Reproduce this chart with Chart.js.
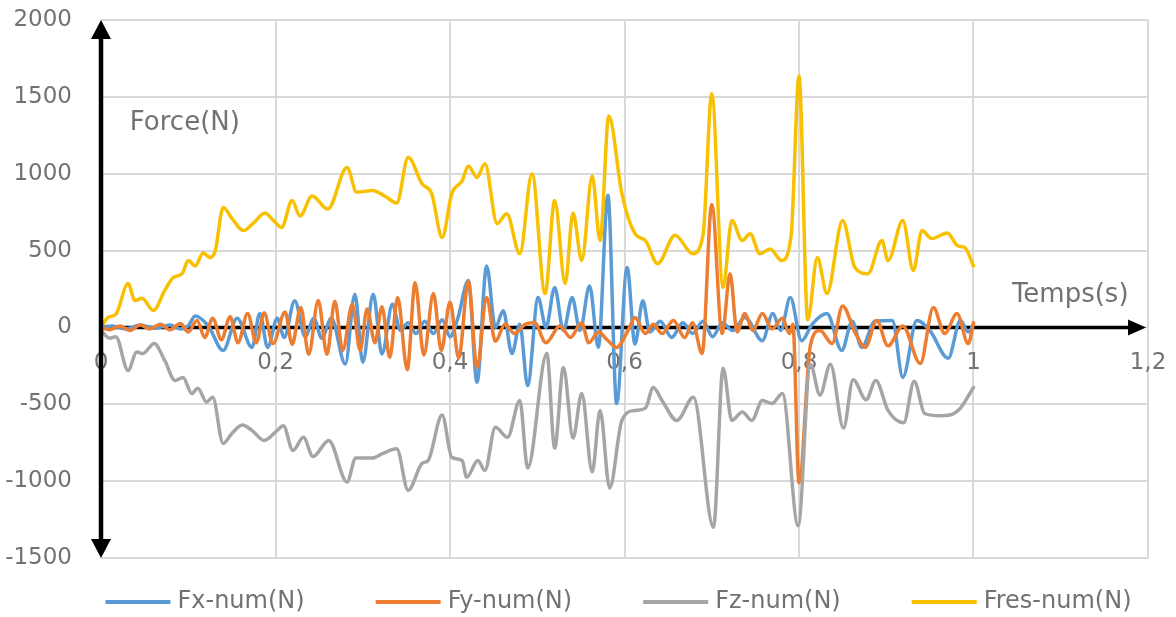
<!DOCTYPE html>
<html>
<head>
<meta charset="utf-8">
<script src="https://cdn.jsdelivr.net/npm/chart.js@4.4.1/dist/chart.umd.min.js"></script>
<style>
  html, body { margin: 0; padding: 0; background: #ffffff; }
  canvas { display: block; }
</style>
</head>
<body>
<canvas id="chart" width="1176" height="617"></canvas>
<script>
// Force components over one second of motion: [time (s), force (N)]
const seriesNames  = ['Fx-num(N)', 'Fy-num(N)', 'Fz-num(N)', 'Fres-num(N)'];
const seriesColors = ['#5b9bd5', '#ed7d31', '#a5a5a5', '#f8c000'];

const fx = [
  [0,0],[0.013,10],[0.028,-10],[0.045,15],[0.062,-5],[0.079,15],[0.091,-10],[0.100,10],
  [0.108,75],[0.123,10],[0.140,-150],[0.156,60],[0.173,-130],[0.182,90],[0.191,-130],
  [0.202,60],[0.210,-65],[0.222,173],[0.234,-60],[0.244,60],[0.253,-70],[0.264,60],
  [0.280,-238],[0.291,216],[0.300,-227],[0.312,216],[0.322,-173],[0.334,150],[0.343,-20],
  [0.352,30],[0.361,-40],[0.371,40],[0.381,-40],[0.391,50],[0.400,-60],[0.409,60],
  [0.421,305],[0.431,-357],[0.442,400],[0.452,0],[0.461,108],[0.471,-170],[0.480,20],
  [0.489,-378],[0.501,195],[0.510,0],[0.520,260],[0.530,-20],[0.540,195],[0.549,-20],
  [0.560,270],[0.570,-130],[0.581,860],[0.591,-495],[0.603,390],[0.612,-108],[0.621,173],
  [0.629,-30],[0.641,40],[0.654,-65],[0.667,30],[0.678,-40],[0.690,40],[0.701,-60],
  [0.712,30],[0.724,-20],[0.738,65],[0.758,-86],[0.770,90],[0.779,-20],[0.790,195],
  [0.803,-86],[0.815,20],[0.832,90],[0.849,-150],[0.861,40],[0.872,-130],[0.887,40],
  [0.907,45],[0.919,-325],[0.935,45],[0.950,-20],[0.971,-200],[0.985,45],[0.994,-30],[1.000,20]
];

const fy = [
  [0,0],[0.010,-15],[0.022,10],[0.033,-20],[0.045,15],[0.056,-10],[0.068,20],[0.079,-15],
  [0.091,25],[0.100,-30],[0.110,45],[0.119,-65],[0.128,60],[0.138,-80],[0.148,70],
  [0.157,-100],[0.168,90],[0.178,-100],[0.187,95],[0.197,-105],[0.211,100],[0.219,-110],
  [0.229,130],[0.238,-175],[0.249,175],[0.259,-175],[0.268,170],[0.277,-150],[0.288,150],
  [0.297,-150],[0.305,120],[0.314,-100],[0.322,135],[0.331,-195],[0.340,195],[0.351,-275],
  [0.360,290],[0.370,-180],[0.381,220],[0.390,-150],[0.400,165],[0.410,-200],[0.421,300],
  [0.431,-260],[0.442,195],[0.452,-90],[0.463,20],[0.474,-40],[0.486,20],[0.497,30],
  [0.510,-100],[0.526,10],[0.538,-65],[0.551,30],[0.559,-100],[0.570,-30],[0.580,-80],
  [0.591,-130],[0.604,-20],[0.612,65],[0.624,-40],[0.633,20],[0.643,-40],[0.656,45],
  [0.669,-65],[0.678,30],[0.689,-170],[0.700,800],[0.712,-40],[0.721,350],[0.729,-30],
  [0.738,90],[0.747,-20],[0.758,90],[0.769,-10],[0.781,60],[0.789,-40],[0.793,20],
  [0.800,-1010],[0.813,-120],[0.824,-20],[0.838,-105],[0.850,140],[0.864,-30],[0.876,-130],
  [0.889,45],[0.902,-120],[0.919,10],[0.939,-235],[0.954,130],[0.967,-40],[0.981,90],
  [0.994,-105],[1.000,30]
];

const fz = [
  [0,-20],[0.010,-70],[0.017,-60],[0.031,-280],[0.041,-160],[0.048,-170],[0.061,-105],
  [0.073,-215],[0.085,-345],[0.094,-325],[0.104,-430],[0.111,-395],[0.121,-485],[0.128,-455],
  [0.140,-755],[0.150,-690],[0.162,-635],[0.173,-670],[0.187,-735],[0.202,-670],[0.209,-640],
  [0.220,-800],[0.232,-715],[0.243,-840],[0.261,-735],[0.282,-1005],[0.292,-850],[0.311,-850],
  [0.323,-820],[0.339,-790],[0.352,-1060],[0.368,-885],[0.375,-865],[0.391,-570],[0.402,-845],
  [0.414,-865],[0.419,-975],[0.432,-865],[0.440,-930],[0.452,-650],[0.466,-715],[0.480,-475],
  [0.489,-915],[0.511,-170],[0.520,-785],[0.530,-260],[0.541,-720],[0.551,-430],[0.563,-940],
  [0.572,-540],[0.583,-1045],[0.597,-605],[0.612,-540],[0.624,-525],[0.633,-390],[0.643,-475],
  [0.660,-605],[0.679,-455],[0.702,-1300],[0.713,-265],[0.723,-605],[0.735,-550],[0.746,-605],
  [0.758,-475],[0.769,-495],[0.781,-430],[0.799,-1290],[0.813,-240],[0.824,-440],[0.836,-240],
  [0.851,-655],[0.862,-340],[0.877,-470],[0.888,-345],[0.902,-540],[0.920,-620],[0.932,-350],
  [0.944,-560],[0.962,-575],[0.973,-570],[0.985,-525],[1.000,-390]
];

const fres = [
  [0,0],[0.008,65],[0.017,85],[0.031,285],[0.039,175],[0.047,190],[0.060,110],[0.073,240],
  [0.083,325],[0.093,350],[0.100,435],[0.108,400],[0.117,485],[0.125,455],[0.131,500],
  [0.140,780],[0.150,710],[0.163,630],[0.174,675],[0.188,745],[0.197,700],[0.207,650],
  [0.219,825],[0.228,725],[0.242,855],[0.260,770],[0.282,1040],[0.293,880],[0.311,890],
  [0.325,855],[0.339,810],[0.352,1105],[0.368,935],[0.379,870],[0.391,585],[0.402,870],
  [0.414,955],[0.421,1050],[0.431,975],[0.440,1065],[0.454,675],[0.465,740],[0.480,480],
  [0.494,1000],[0.509,220],[0.520,825],[0.532,285],[0.541,745],[0.551,435],[0.563,985],
  [0.572,565],[0.582,1375],[0.597,870],[0.612,610],[0.624,565],[0.638,415],[0.658,600],
  [0.678,480],[0.690,600],[0.700,1520],[0.713,260],[0.723,695],[0.735,565],[0.744,610],
  [0.755,480],[0.767,510],[0.780,435],[0.791,600],[0.800,1635],[0.810,50],[0.821,455],
  [0.832,220],[0.850,695],[0.864,390],[0.879,350],[0.895,565],[0.902,435],[0.919,695],
  [0.931,370],[0.941,630],[0.952,578],[0.970,615],[0.982,530],[0.990,520],[1.000,400]
];

const seriesData = [fx, fy, fz, fres];

// Axis ranges and tick steps
const xMin = 0, xMax = 1.2, xStep = 0.2;
const yMin = -1500, yMax = 2000, yStep = 500;
const yTitle = 'Force(N)';
const xTitle = 'Temps(s)';

const FONT = '"DejaVu Sans", "Open Sans", sans-serif';
const TEXT_COLOR = '#727272';

function formatTime(v) {
  const r = Math.round(v * 10) / 10;
  return String(r).replace('.', ',');
}

function arrowHead(ctx, tipX, tipY, dirX, dirY, len, halfW) {
  const bx = tipX - dirX * len, by = tipY - dirY * len;
  const px = -dirY, py = dirX;
  ctx.beginPath();
  ctx.moveTo(tipX, tipY);
  ctx.lineTo(bx + px * halfW, by + py * halfW);
  ctx.lineTo(bx - px * halfW, by - py * halfW);
  ctx.closePath();
  ctx.fill();
}

// Keep the plot box fixed: no extra room reserved for tick label overhang
function noOverhang(scale) {
  scale.paddingTop = 0;
  scale.paddingBottom = 0;
  scale.paddingLeft = 0;
  scale.paddingRight = 0;
}

// Black arrowed axes through the origin, axis titles and a bottom legend
const axesPlugin = {
  id: 'axesArrows',
  beforeDatasetsDraw(chart) {
    const {ctx, chartArea, scales} = chart;
    const x0 = scales.x.getPixelForValue(0);
    const y0 = scales.y.getPixelForValue(0);
    ctx.save();
    ctx.strokeStyle = '#000';
    ctx.fillStyle = '#000';
    ctx.lineWidth = 3.5;
    ctx.beginPath();
    ctx.moveTo(x0, y0);
    ctx.lineTo(chartArea.right - 16, y0);
    ctx.stroke();
    arrowHead(ctx, chartArea.right - 2, y0, 1, 0, 18, 8);
    ctx.restore();
  },
  afterDatasetsDraw(chart) {
    const {ctx, chartArea, scales} = chart;
    const x0 = scales.x.getPixelForValue(0);
    ctx.save();
    ctx.strokeStyle = '#000';
    ctx.fillStyle = '#000';
    ctx.lineWidth = 4.5;
    ctx.beginPath();
    ctx.moveTo(x0, chartArea.top + 14);
    ctx.lineTo(x0, chartArea.bottom - 14);
    ctx.stroke();
    arrowHead(ctx, x0, chartArea.top, 0, -1, 19, 10);
    arrowHead(ctx, x0, chartArea.bottom, 0, 1, 19, 10);

    ctx.fillStyle = TEXT_COLOR;
    ctx.font = '26px ' + FONT;
    ctx.textAlign = 'left';
    ctx.textBaseline = 'middle';
    ctx.fillText(yTitle, scales.x.getPixelForValue(0.033), scales.y.getPixelForValue(1330));
    ctx.fillText(xTitle, scales.x.getPixelForValue(1.044), scales.y.getPixelForValue(208));
    ctx.restore();
  },
  afterDraw(chart) {
    const {ctx, chartArea} = chart;
    ctx.save();
    ctx.font = '24px ' + FONT;
    ctx.textBaseline = 'middle';
    ctx.textAlign = 'left';
    const lineLen = 65, textGap = 7, itemGap = 71;
    const items = chart.data.datasets.map(ds => ({
      text: ds.label, color: ds.borderColor, w: ctx.measureText(ds.label).width
    }));
    const total = items.reduce((s, it) => s + lineLen + textGap + it.w, 0) + itemGap * (items.length - 1);
    let x = (chartArea.left + chartArea.right) / 2 - total / 2 - 6;
    const y = chartArea.bottom + 44;
    items.forEach(it => {
      ctx.strokeStyle = it.color;
      ctx.lineWidth = 4;
      ctx.lineCap = 'butt';
      ctx.beginPath();
      ctx.moveTo(x, y);
      ctx.lineTo(x + lineLen, y);
      ctx.stroke();
      ctx.fillStyle = TEXT_COLOR;
      ctx.fillText(it.text, x + lineLen + textGap, y);
      x += lineLen + textGap + it.w + itemGap;
    });
    ctx.restore();
  }
};

const drawOrder = [4, 3, 2, 1]; // Fres on top, Fx underneath

new Chart(document.getElementById('chart'), {
  type: 'line',
  data: {
    datasets: seriesNames.map((name, i) => ({
      label: name,
      data: seriesData[i].map(([t, v]) => ({x: t, y: v})),
      borderColor: seriesColors[i],
      backgroundColor: seriesColors[i],
      borderWidth: 3.5,
      pointRadius: 0,
      fill: false,
      cubicInterpolationMode: 'monotone',
      borderJoinStyle: 'round',
      borderCapStyle: 'round',
      order: drawOrder[i]
    }))
  },
  options: {
    responsive: false,
    animation: false,
    devicePixelRatio: 1,
    layout: { padding: { left: 0, right: 28, top: 20, bottom: 59 } },
    plugins: {
      legend: { display: false },
      tooltip: { enabled: false }
    },
    scales: {
      x: {
        type: 'linear',
        position: { y: 0 },
        min: xMin, max: xMax,
        grid: { color: '#d9d9d9', lineWidth: 2, drawTicks: false },
        border: { display: false },
        afterFit: noOverhang,
        ticks: {
          stepSize: xStep,
          padding: 22,
          maxRotation: 0,
          autoSkip: false,
          color: TEXT_COLOR,
          font: { family: FONT, size: 23 },
          callback: v => formatTime(v)
        }
      },
      y: {
        type: 'linear',
        position: 'left',
        min: yMin, max: yMax,
        grid: { color: '#d9d9d9', lineWidth: 2, drawTicks: false },
        border: { display: false },
        afterFit(scale) { scale.width = 101; noOverhang(scale); },
        ticks: {
          stepSize: yStep,
          padding: 29,
          color: TEXT_COLOR,
          font: { family: FONT, size: 23 },
          callback: v => String(v)
        }
      }
    }
  },
  plugins: [axesPlugin]
});
</script>
</body>
</html>
